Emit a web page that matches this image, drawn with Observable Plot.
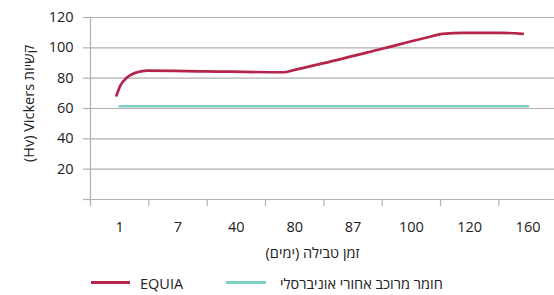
<!DOCTYPE html>
<html><head><meta charset="utf-8">
<script src="https://cdn.jsdelivr.net/npm/d3@7"></script>
<script src="https://cdn.jsdelivr.net/npm/@observablehq/plot@0.6"></script>
<style>
body{margin:0;background:#fff;font-family:'Open Sans','DejaVu Sans',sans-serif;}
#wrap{width:554px;height:295px;position:relative;overflow:hidden;}
#legend{position:relative;width:554px;height:33px;font-size:14.5px;color:#222;}
#legend .sw{position:absolute;height:3px;top:18.5px;}
#legend .lb{position:absolute;top:11.5px;line-height:20px;white-space:nowrap;}
</style></head><body><div id="wrap"></div>
<script>
// Categories (immersion time, days)
const categories = ["1", "7", "40", "80", "87", "100", "120", "160"];
// Universal posterior composite: one value per category
const compositeValues = [61.5, 61.5, 61.5, 61.5, 61.5, 61.5, 61.5, 61.5];
// EQUIA smoothed line (position along category axis, value)
const equiaPos    = [0.446, 0.514, 0.629, 0.80, 0.97, 2.0, 3.33, 3.5, 4.0, 5.0, 5.85, 6.03, 6.4, 7.03, 7.41];
const equiaValues = [68.6, 75.2, 80.6, 83.9, 85.0, 84.5, 83.9, 85.5, 89.9, 99.4, 107.6, 109.2, 109.9, 109.9, 109.2];
const yTicks = [0, 20, 40, 60, 80, 100, 120];
const seriesNames = ["EQUIA", "חומר מרוכב אחורי אוניברסלי"];
const seriesColors = ["#b5254b", "#7fcfc7"];
const yTitle = "(Hv) Vickers קשיות";
const xTitle = "זמן טבילה (ימים)\u200F";

const gridColor = "#b0b0b0";
const textColor = "#222";

const chart = Plot.plot({
  width: 554, height: 262,
  marginLeft: 90, marginRight: 0, marginTop: 17, marginBottom: 63,
  style: {fontFamily: "'Open Sans','DejaVu Sans',sans-serif", fontSize: "14.5px", color: textColor, background: "#fff"},
  x: {type: "linear", domain: [0, categories.length], range: [90, 556.7]},
  y: {domain: [0, 120]},
  marks: [
    Plot.ruleY(yTicks.slice(1), {stroke: gridColor, strokeWidth: 1.2}),
    Plot.ruleY([0], {stroke: gridColor, strokeWidth: 1.2}),
    Plot.ruleX([0], {y1: 0, y2: 120, stroke: gridColor, strokeWidth: 1.2}),
    Plot.axisY(yTicks, {tickSize: 7, tickPadding: 10, stroke: gridColor, strokeWidth: 1.2, fill: textColor, tickFormat: d => d === 0 ? "" : String(d)}),
    Plot.axisX(d3.range(categories.length + 1), {tickSize: 7, stroke: gridColor, strokeWidth: 1.2, tickFormat: () => ""}),
    Plot.text(categories, {x: (d, i) => i + 0.5, y: () => 0, text: d => d, dy: 27.5, fill: textColor}),
    Plot.line(compositeValues, {x: (d, i) => i + 0.5, y: d => d, stroke: seriesColors[1], strokeWidth: 2.6}),
    Plot.line(equiaValues, {x: (d, i) => equiaPos[i], y: d => d, curve: "monotone-x", stroke: seriesColors[0], strokeWidth: 2.7}),
    Plot.text([yTitle], {frameAnchor: "left", textAnchor: "middle", lineAnchor: "middle", dx: -61, dy: -5, rotate: -90, fill: textColor}),
    Plot.text([xTitle], {frameAnchor: "bottom", textAnchor: "middle", lineAnchor: "middle", dx: -10, dy: 54, fill: textColor})
  ]
});

const wrap = document.getElementById("wrap");
wrap.appendChild(chart);

const legend = document.createElement("div");
legend.id = "legend";
const swLeft = [91, 226], swWidth = [39, 40], lbLeft = [140, 280];
seriesNames.forEach((name, i) => {
  const sw = document.createElement("span");
  sw.className = "sw";
  sw.style.left = swLeft[i] + "px";
  sw.style.width = swWidth[i] + "px";
  sw.style.background = seriesColors[i];
  legend.appendChild(sw);
  const lb = document.createElement("span");
  lb.className = "lb";
  lb.style.left = lbLeft[i] + "px";
  if (i === 1) lb.dir = "rtl";
  lb.textContent = name;
  legend.appendChild(lb);
});
wrap.appendChild(legend);
</script>
</body></html>
